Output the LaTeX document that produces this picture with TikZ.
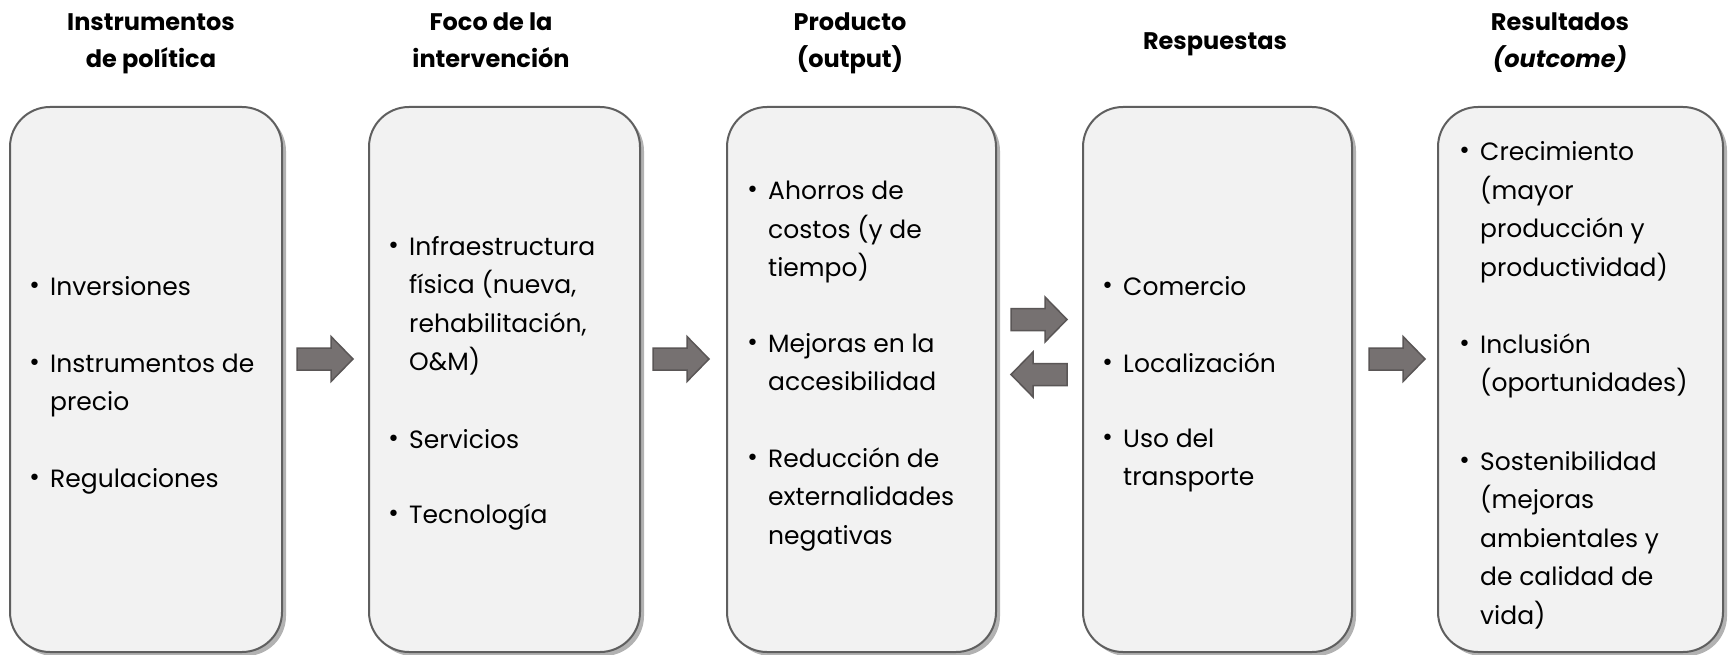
\documentclass[tikz,border=0pt]{standalone}
\usepackage{fontspec}
\setmainfont{Poppins}
\newfontfamily\bulfont{DejaVu Sans}
\usetikzlibrary{shadows}
\definecolor{boxfill}{HTML}{F2F2F2}
\definecolor{boxline}{HTML}{5F5F5F}
\definecolor{arrfill}{HTML}{767171}
\definecolor{arrline}{HTML}{5A5656}
\newcommand\bitem[1]{\parbox[t]{260pt}{\raggedright\noindent\leavevmode\llap{\raisebox{2pt}{\bulfont\fontsize{22}{22}\selectfont •}\hspace{9pt}}#1}}
\newcommand\hdrtext[1]{\parbox[t]{300pt}{\centering #1}}
\tikzset{
  stagebox/.style={draw=boxline, line width=2pt, fill=boxfill, rounded corners=40pt,
    minimum height=545pt, inner sep=0pt,
    drop shadow={shadow xshift=4pt, shadow yshift=-4pt, opacity=0.3, fill=black}},
  itm/.style={anchor=base west, inner sep=0pt, font=\fontsize{25}{38.5}\selectfont},
  hdr/.style={anchor=base, inner sep=0pt, font=\fontsize{24}{37}\selectfont\bfseries},
  blk/.style={fill=arrfill, draw=arrline, line width=1.5pt, line join=miter}
}
\newcommand\rarr[3]{\filldraw[blk] ({#1-28},{#2-11}) -- ({#1+6},{#2-11}) -- ({#1+6},{#2-22.5}) -- ({#1+28},{#2}) -- ({#1+6},{#2+22.5}) -- ({#1+6},{#2+11}) -- ({#1-28},{#2+11}) -- cycle; \coordinate (#3) at (#1,#2);}
\newcommand\larr[3]{\filldraw[blk] ({#1+28},{#2-11}) -- ({#1-6},{#2-11}) -- ({#1-6},{#2-22.5}) -- ({#1-28},{#2}) -- ({#1-6},{#2+22.5}) -- ({#1-6},{#2+11}) -- ({#1+28},{#2+11}) -- cycle; \coordinate (#3) at (#1,#2);}
\begin{document}
\begin{tikzpicture}[x=1pt,y=-1pt]
\useasboundingbox[fill=white] (0,0) rectangle (1731,655);
% boxes
\node[stagebox, minimum width=272pt] (b1) at (146,379.5) {};
\node[stagebox, minimum width=271pt] (b2) at (504.5,379.5) {};
\node[stagebox, minimum width=269pt] (b3) at (861.5,379.5) {};
\node[stagebox, minimum width=269pt] (b4) at (1217.5,379.5) {};
\node[stagebox, minimum width=285pt] (b5) at (1580.5,379.5) {};
% headers
\node[hdr] (h1) at (151,31) {\hdrtext{Instrumentos\\de política}};
\node[hdr] (h2) at (491,31) {\hdrtext{Foco de la\\intervención}};
\node[hdr] (h3) at (850,31) {\hdrtext{Producto\\(output)}};
\node[hdr] (h4) at (1215,50) {\hdrtext{Respuestas}};
\node[hdr] (h5) at (1560,31) {\hdrtext{Resultados\\\textit{(outcome)}}};
% box 1
\node[itm] (i11) at (50,295) {\bitem{Inversiones}};
\node[itm] (i12) at (50,372) {\bitem{Instrumentos de\\precio}};
\node[itm] (i13) at (50,487) {\bitem{Regulaciones}};
% box 2
\node[itm] (i21) at (409,255) {\bitem{Infraestructura\\física (nueva,\\rehabilitación,\\O\&M)}};
\node[itm] (i22) at (409,448) {\bitem{Servicios}};
\node[itm] (i23) at (409,523) {\bitem{Tecnología}};
% box 3
\node[itm] (i31) at (768,200) {\bitem{Ahorros de\\costos (y de\\tiempo)}};
\node[itm] (i32) at (768,352) {\bitem{Mejoras en la\\accesibilidad}};
\node[itm] (i33) at (768,467) {\bitem{Reducción de\\externalidades\\negativas}};
% box 4
\node[itm] (i41) at (1123,295) {\bitem{Comercio}};
\node[itm] (i42) at (1123,372) {\bitem{Localización}};
\node[itm] (i43) at (1123,447) {\bitem{Uso del\\transporte}};
% box 5
\node[itm] (i51) at (1480,161) {\bitem{Crecimiento\\(mayor\\producción y\\productividad)}};
\node[itm] (i52) at (1480,353) {\bitem{Inclusión\\(oportunidades)}};
\node[itm] (i53) at (1480,470) {\bitem{Sostenibilidad\\(mejoras\\ambientales y\\de calidad de\\vida)}};
% arrows
\rarr{325}{359}{a1}
\rarr{681}{359}{a2}
\rarr{1039}{319.5}{a3}
\larr{1039}{374.5}{a4}
\rarr{1397}{359}{a5}
\end{tikzpicture}
\end{document}
